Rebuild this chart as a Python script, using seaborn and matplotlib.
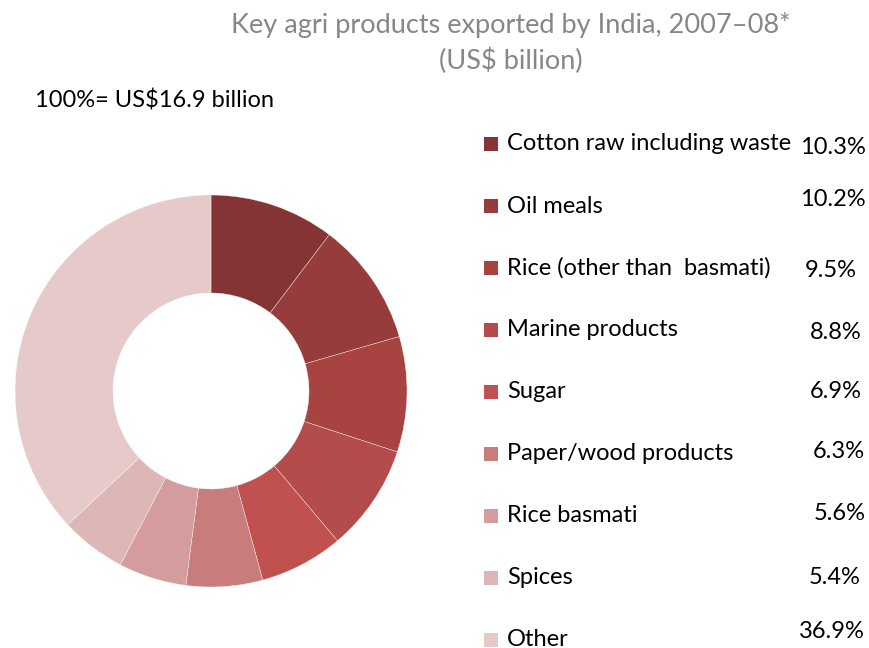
import matplotlib
matplotlib.use("Agg")
import matplotlib.pyplot as plt
from matplotlib.patches import Rectangle
import seaborn as sns

categories = ["Cotton raw including waste", "Oil meals", "Rice (other than  basmati)",
              "Marine products", "Sugar", "Paper/wood products", "Rice basmati",
              "Spices", "Other"]
shares = [10.3, 10.2, 9.5, 8.8, 6.9, 6.3, 5.6, 5.4, 36.9]
pct_labels = ["10.3%", "10.2%", "9.5%", "8.8%", "6.9%", "6.3%", "5.6%", "5.4%", "36.9%"]
colors = ["#843434", "#963c3c", "#a74442", "#b34c4a", "#c0514f",
          "#c87c7c", "#d49c9c", "#ddb6b6", "#e6caca"]
title_lines = ["Key agri products exported by India, 2007\u201308*", "(US$ billion)"]
total_label = "100%= US$16.9 billion"

sns.set_theme(style="white")
plt.rcParams["font.family"] = ["Lato", "DejaVu Sans"]

W, H = 870, 648
fig = plt.figure(figsize=(W / 100, H / 100), dpi=100)
fig.patch.set_facecolor("white")

def fx(x):
    return x / W

def fy(y):
    return 1 - y / H

cx, cy, r = 211, 391, 196
ax = fig.add_axes([fx(cx - r), fy(cy + r), 2 * r / W, 2 * r / H])
ax.pie(shares, colors=colors, startangle=90, counterclock=False,
       wedgeprops=dict(width=0.5, edgecolor="white", linewidth=0.25), radius=1.0)
ax.set_xlim(-1, 1)
ax.set_ylim(-1, 1)
ax.set_aspect("equal")
ax.axis("off")

fig.text(fx(511), fy(25), title_lines[0], ha="center", va="center",
         fontsize=19.5, color="#878787")
fig.text(fx(511), fy(61), title_lines[1], ha="center", va="center",
         fontsize=19.5, color="#878787")
fig.text(fx(35), fy(101), total_label, ha="left", va="center",
         fontsize=17, color="black")

row0, step = 144, 62
pct_x = [866, 866, 857, 862, 862, 865, 866, 861, 865]
pct_dy = [4, -6, 2, 2, 0, -3, -2, 0, -8]
for i, (cat, pl, col) in enumerate(zip(categories, pct_labels, colors)):
    y = row0 + i * step
    sq = 14
    fig.patches.append(Rectangle((fx(484), fy(y + sq / 2)), sq / W, sq / H,
                                 transform=fig.transFigure, facecolor=col,
                                 edgecolor="none"))
    fig.text(fx(507), fy(y), cat, ha="left", va="center", fontsize=17,
             color="black")
    fig.text(fx(pct_x[i]), fy(y + pct_dy[i]), pl, ha="right", va="center",
             fontsize=17, color="black")

fig.savefig("out.png", dpi=100, facecolor="white")
